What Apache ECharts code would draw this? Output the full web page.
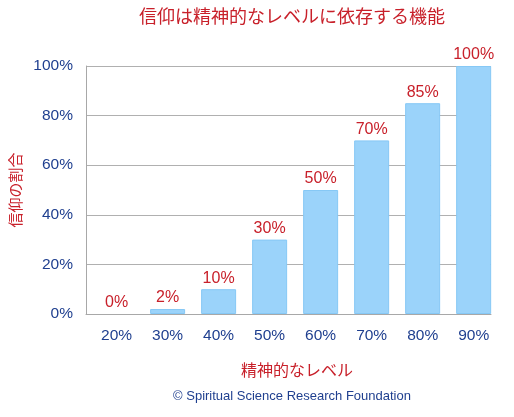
<!DOCTYPE html>
<html>
<head>
<meta charset="utf-8">
<title>信仰は精神的なレベルに依存する機能</title>
<script src="https://cdn.jsdelivr.net/npm/echarts@6/dist/echarts.min.js"></script>
<style>
html, body { margin: 0; padding: 0; background: #fff; }
#chart { width: 514px; height: 417px; }
</style>
</head>
<body>
<div id="chart"></div>
<script>
// data
var levels = ['20%', '30%', '40%', '50%', '60%', '70%', '80%', '90%'];
var faithShare = [0, 2, 10, 30, 50, 70, 85, 100];
var yTicks = [0, 20, 40, 60, 80, 100];

var red = '#c8202a';
var blue = '#1f3f8f';
var font = '"Liberation Sans", "Noto Sans CJK JP", sans-serif';
var cjkFont = '"Noto Sans CJK JP", sans-serif';

var chart = echarts.init(document.getElementById('chart'));

// bars sit on a value axis so the band offsets match the original
var barData = faithShare.map(function (v, i) {
    // a zero bar has no visible outline in the original
    return v === 0 ? { value: [i, v], itemStyle: { borderWidth: 0 } } : [i, v];
});

var option = {
    backgroundColor: '#fff',
    animation: false,
    grid: { left: 86, right: 23, top: 66, bottom: 103 },
    xAxis: {
        type: 'value',
        min: -0.6,
        max: 7.34,
        splitLine: { show: false },
        axisTick: { show: false },
        axisLine: { show: true, onZero: false, lineStyle: { color: '#a8a8a8', width: 1 } },
        axisLabel: {
            customValues: levels.map(function (l, i) { return i; }),
            formatter: function (v) { return levels[Math.round(v)]; },
            color: blue,
            fontSize: 15.5,
            fontFamily: font,
            margin: 14
        }
    },
    yAxis: {
        type: 'value',
        min: 0,
        max: 100,
        interval: 20,
        axisLine: { show: true, onZero: false, lineStyle: { color: '#a8a8a8', width: 1 } },
        axisTick: { show: false },
        splitLine: { show: true, lineStyle: { color: '#b0b0b0', width: 1 } },
        axisLabel: {
            customValues: yTicks,
            formatter: '{value}%',
            color: blue,
            fontSize: 15.5,
            fontFamily: font,
            margin: 13
        }
    },
    series: [{
        type: 'bar',
        data: barData,
        barWidth: 35,
        itemStyle: { color: '#9bd3fa', borderColor: '#86c8f5', borderWidth: 1 },
        label: {
            show: true,
            position: 'top',
            distance: 3,
            formatter: function (p) { return p.value[1] + '%'; },
            color: red,
            fontSize: 16,
            fontFamily: font
        }
    }],
    graphic: [
        {
            type: 'text', x: 292, y: 16,
            style: { text: '信仰は精神的なレベルに依存する機能', fill: red, font: '18px ' + cjkFont, align: 'center', verticalAlign: 'middle' }
        },
        {
            type: 'text', x: 297, y: 370,
            style: { text: '精神的なレベル', fill: red, font: '16px ' + cjkFont, align: 'center', verticalAlign: 'middle' }
        },
        {
            type: 'text', x: 15, y: 190, rotation: Math.PI / 2,
            style: { text: '信仰の割合', fill: red, font: '15px ' + cjkFont, align: 'center', verticalAlign: 'middle' }
        },
        {
            type: 'text', x: 292, y: 396,
            style: { text: '© Spiritual Science Research Foundation', fill: blue, font: '13px ' + font, align: 'center', verticalAlign: 'middle' }
        }
    ]
};

chart.setOption(option);
</script>
</body>
</html>
